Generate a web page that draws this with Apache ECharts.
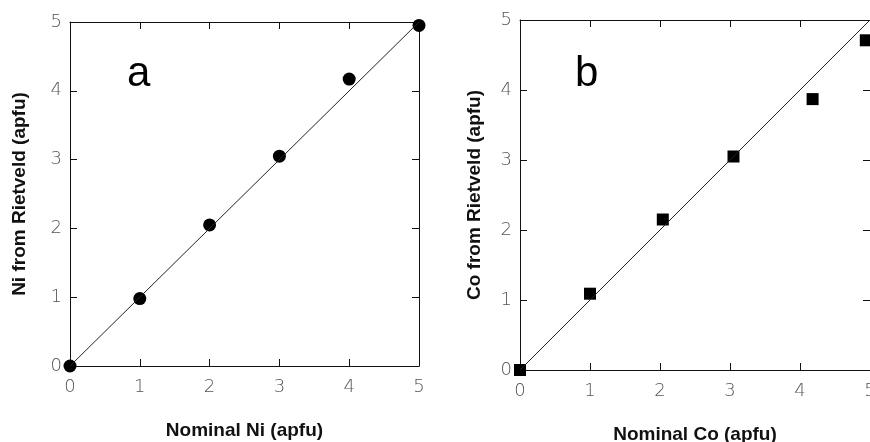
<!DOCTYPE html>
<html>
<head>
<meta charset="utf-8">
<title>Ni / Co Rietveld</title>
<script src="https://cdn.jsdelivr.net/npm/echarts@6/dist/echarts.min.js"></script>
<style>
html, body { margin: 0; padding: 0; background: #fff; }
#chart { width: 870px; height: 442px; }
</style>
</head>
<body>
<div id="chart"></div>
<script type="text/javascript">
// data
var nominalNi = [0, 1, 2, 3, 4, 5];
var rietveldNi = [0, 0.98, 2.05, 3.05, 4.17, 4.95];
var nominalCo = [0, 1.0, 2.04, 3.05, 4.18, 4.94];
var rietveldCo = [0, 1.09, 2.15, 3.05, 3.87, 4.71];
var oneToOne = [[0, 0], [5, 5]];

function pairs(xs, ys) {
    return xs.map(function (x, i) { return [x, ys[i]]; });
}

var tickFont = {fontFamily: 'DejaVu Sans', fontWeight: 'lighter', fontSize: 18, color: '#555'};
var nameFont = {fontFamily: 'Liberation Sans', fontWeight: 'bold', fontSize: 19, color: '#111'};

function axisPair(type, gridIndex, name, gap) {
    var lineStyle = {color: '#111', width: 1};
    var main = {
        type: 'value', gridIndex: gridIndex, min: 0, max: 5, interval: 1,
        axisLine: {show: true, onZero: false, lineStyle: lineStyle},
        axisTick: {show: true, inside: true, length: 7, lineStyle: lineStyle},
        axisLabel: Object.assign({margin: type === 'x' ? 12 : 8}, tickFont),
        splitLine: {show: false},
        name: name, nameLocation: 'middle', nameGap: gap,
        nameTextStyle: nameFont
    };
    var mirror = {
        type: 'value', gridIndex: gridIndex, min: 0, max: 5, interval: 1,
        position: type === 'x' ? 'top' : 'right',
        axisLine: {show: true, onZero: false, lineStyle: lineStyle},
        axisTick: {show: true, inside: true, length: 7, lineStyle: lineStyle},
        axisLabel: {show: false},
        splitLine: {show: false}
    };
    return [main, mirror];
}

var xa = axisPair('x', 0, 'Nominal Ni (apfu)', 55);
var ya = axisPair('y', 0, 'Ni from Rietveld (apfu)', 41);
var xb = axisPair('x', 1, 'Nominal Co (apfu)', 55);
var yb = axisPair('y', 1, 'Co from Rietveld (apfu)', 36);

var letterFont = {fontFamily: 'Liberation Sans', fontSize: 42, fontWeight: 'normal', color: '#000'};

var chart = echarts.init(document.getElementById('chart'));
chart.setOption({
    animation: false,
    backgroundColor: '#fff',
    title: [
        {text: 'a', left: 122, top: 48, textStyle: letterFont},
        {text: 'b', left: 570, top: 48, textStyle: letterFont}
    ],
    grid: [
        {left: 70, width: 349, top: 22, height: 344, outerBoundsMode: 'none', containLabel: false},
        {left: 520, width: 350, top: 20, height: 350, outerBoundsMode: 'none', containLabel: false}
    ],
    xAxis: [xa[0], xa[1], xb[0], xb[1]],
    yAxis: [ya[0], ya[1], yb[0], yb[1]],
    series: [
        {
            type: 'line', xAxisIndex: 0, yAxisIndex: 0, data: oneToOne,
            symbol: 'none', lineStyle: {color: '#222', width: 1}, silent: true
        },
        {
            type: 'scatter', xAxisIndex: 0, yAxisIndex: 0, data: pairs(nominalNi, rietveldNi),
            symbol: 'circle', symbolSize: 13, itemStyle: {color: '#000', opacity: 1}, clip: false
        },
        {
            type: 'line', xAxisIndex: 2, yAxisIndex: 2, data: oneToOne,
            symbol: 'none', lineStyle: {color: '#222', width: 1}, silent: true
        },
        {
            type: 'scatter', xAxisIndex: 2, yAxisIndex: 2, data: pairs(nominalCo, rietveldCo),
            symbol: 'rect', symbolSize: 12, itemStyle: {color: '#000', opacity: 1}, clip: false
        }
    ]
});
</script>
</body>
</html>
